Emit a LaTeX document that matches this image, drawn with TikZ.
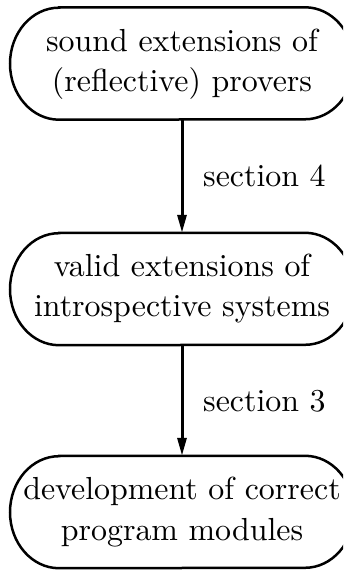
\documentclass[tikz,border=0pt]{standalone}
\usetikzlibrary{arrows.meta}
\newcommand{\bigtxt}[1]{\scalebox{3.19}{\renewcommand{\arraystretch}{1.045}\begin{tabular}{@{}c@{}}#1\end{tabular}}}
\begin{document}
\begin{tikzpicture}[x=1pt,y=1pt,
  box/.style={minimum width=344pt,minimum height=112pt,inner sep=0pt,align=center,
    font=\fontsize{10}{12}\selectfont},
  boxline/.style={line width=2.5pt},
  arr/.style={line width=3pt,-{Triangle[length=18pt,width=9pt]}},
  lab/.style={anchor=base west,inner sep=0pt,font=\fontsize{10}{12}\selectfont}]
\useasboundingbox (0,0) rectangle (343,573);
\clip (0,0) rectangle (343,573);
\node[box] (b1) at (182,509.5) {\bigtxt{sound extensions of\\(reflective) provers}};
\node[box] (b2) at (182,284) {\bigtxt{valid extensions of\\introspective systems}};
\node[box] (b3) at (182,61) {\bigtxt{development of correct\\program modules}};
\foreach \n in {b1,b2,b3}{
  \draw[boxline] ([xshift=-123pt]\n.north) -- ([xshift=123pt]\n.north)
    arc[start angle=90,end angle=-90,x radius=49,y radius=56]
    -- ([xshift=-123pt]\n.south)
    arc[start angle=270,end angle=90,x radius=49,y radius=56] -- cycle;
}
\draw[arr] (b1.south) -- (b2.north);
\draw[arr] (b2.south) -- (b3.north);
\coordinate (l1) at (203,386);
\coordinate (l2) at (203,161);
\node[lab] (s4) at (l1) {\scalebox{3.19}{section 4}};
\node[lab] (s3) at (l2) {\scalebox{3.19}{section 3}};
\end{tikzpicture}
\end{document}
